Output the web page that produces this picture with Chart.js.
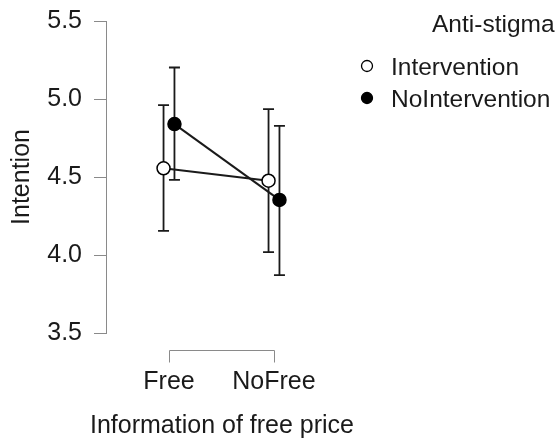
<!DOCTYPE html>
<html lang="en">
<head>
    <meta charset="UTF-8">
    <title>Intention by information of free price</title>
    <style>
        body {
            margin: 0;
            padding: 0;
            background: #ffffff;
        }
        #chart {
            display: block;
        }
    </style>
</head>
<body>
    <canvas id="chart" width="558" height="440"></canvas>

    <script src="https://cdn.jsdelivr.net/npm/chart.js"></script>
    <script>
        // Data
        const categories = ['Free', 'NoFree'];
        const seriesNames = ['Intervention', 'NoIntervention'];
        const legendTitle = 'Anti-stigma';
        const xTitle = 'Information of free price';
        const yTicks = [3.5, 4.0, 4.5, 5.0, 5.5];

        const interventionMean = [4.556, 4.476];
        const interventionLow = [4.155, 4.018];
        const interventionHigh = [4.961, 4.935];

        const noInterventionMean = [4.839, 4.353];
        const noInterventionLow = [4.481, 3.871];
        const noInterventionHigh = [5.202, 4.828];

        const FONT = '"Liberation Sans", Arial, Helvetica, sans-serif';
        const AXIS_GREY = '#8a8a8a';
        const INK = '#1a1a1a';
        const dodge = 0.052; // horizontal offset so the two groups do not overlap

        function toPoints(means, shift) {
            return means.map((m, i) => ({ x: i + 1 + shift, y: m }));
        }

        const series = [
            { name: seriesNames[0], mean: interventionMean, low: interventionLow, high: interventionHigh, shift: -dodge, fill: '#ffffff' },
            { name: seriesNames[1], mean: noInterventionMean, low: noInterventionLow, high: noInterventionHigh, shift: dodge, fill: '#000000' }
        ];

        // error bars, drawn beneath lines and points
        const errorBars = {
            id: 'errorBars',
            beforeDatasetsDraw(chart) {
                const c = chart.ctx;
                const xs = chart.scales.x;
                const ys = chart.scales.y;
                c.save();
                c.strokeStyle = INK;
                c.lineWidth = 1.8;
                series.forEach(s => {
                    s.mean.forEach((m, i) => {
                        const x = xs.getPixelForValue(i + 1 + s.shift);
                        const top = ys.getPixelForValue(s.high[i]);
                        const bot = ys.getPixelForValue(s.low[i]);
                        c.beginPath();
                        c.moveTo(x, top); c.lineTo(x, bot);
                        c.moveTo(x - 5.5, top); c.lineTo(x + 5.5, top);
                        c.moveTo(x - 5.5, bot); c.lineTo(x + 5.5, bot);
                        c.stroke();
                    });
                });
                c.restore();
            }
        };

        // bracket-style x axis line and the x title, centred under the categories
        const xBracket = {
            id: 'xBracket',
            afterDraw(chart) {
                const c = chart.ctx;
                const xs = chart.scales.x;
                const yBase = Math.round(chart.chartArea.bottom + 17) + 0.5;
                const x1 = Math.round(xs.getPixelForValue(1)) + 0.5;
                const x2 = Math.round(xs.getPixelForValue(categories.length)) + 0.5;
                c.save();
                c.strokeStyle = AXIS_GREY;
                c.lineWidth = 1;
                c.beginPath();
                c.moveTo(x1, yBase + 12);
                c.lineTo(x1, yBase);
                c.lineTo(x2, yBase);
                c.lineTo(x2, yBase + 12);
                c.stroke();

                c.font = '25px ' + FONT;
                c.fillStyle = INK;
                c.textAlign = 'center';
                c.textBaseline = 'alphabetic';
                c.fillText(xTitle, (x1 + x2) / 2, 433);
                c.restore();
            }
        };

        // legend at the right, with its title
        const sideLegend = {
            id: 'sideLegend',
            afterDraw(chart) {
                const c = chart.ctx;
                c.save();
                c.font = '24.5px ' + FONT;
                c.fillStyle = INK;
                c.textBaseline = 'alphabetic';
                c.textAlign = 'left';
                c.fillText(legendTitle, 432, 32);
                series.forEach((s, i) => {
                    const cy = 66 + i * 32;
                    c.beginPath();
                    c.arc(367, cy, 5.5, 0, Math.PI * 2);
                    c.fillStyle = s.fill;
                    c.fill();
                    c.lineWidth = 1.3;
                    c.strokeStyle = '#000';
                    c.stroke();
                    c.fillStyle = INK;
                    c.fillText(s.name, 391, cy + 8.5);
                });
                c.restore();
            }
        };

        const ctx = document.getElementById('chart').getContext('2d');
        new Chart(ctx, {
            type: 'scatter',
            data: {
                datasets: series.map(s => ({
                    label: s.name,
                    data: toPoints(s.mean, s.shift),
                    showLine: true,
                    borderColor: INK,
                    borderWidth: 2,
                    pointBackgroundColor: s.fill,
                    pointBorderColor: '#000',
                    pointBorderWidth: 1.5,
                    pointRadius: 6.5,
                    pointHoverRadius: 6.5
                }))
            },
            options: {
                responsive: false,
                animation: false,
                events: [],
                layout: {
                    padding: { top: 21, right: 221, bottom: 0, left: 0 }
                },
                plugins: {
                    legend: { display: false },
                    tooltip: { enabled: false }
                },
                scales: {
                    x: {
                        type: 'linear',
                        min: 0.4,
                        max: 2.6,
                        afterBuildTicks(scale) {
                            scale.ticks = categories.map((_, i) => ({ value: i + 1 }));
                        },
                        afterFit(scale) {
                            scale.height = 107;
                        },
                        ticks: {
                            autoSkip: false,
                            maxRotation: 0,
                            padding: 34,
                            color: INK,
                            font: { family: FONT, size: 25 },
                            callback: v => categories[Math.round(v) - 1] || ''
                        },
                        grid: { display: false, drawTicks: false },
                        border: { display: false }
                    },
                    y: {
                        min: 3.5,
                        max: 5.5,
                        afterBuildTicks(scale) {
                            scale.ticks = yTicks.map(v => ({ value: v }));
                        },
                        afterFit(scale) {
                            scale.width = 106;
                            scale.paddingTop = 0;
                            scale.paddingBottom = 0;
                        },
                        ticks: {
                            padding: 12,
                            color: INK,
                            font: { family: FONT, size: 25 },
                            callback: v => Number(v).toFixed(1)
                        },
                        grid: {
                            drawOnChartArea: false,
                            drawTicks: true,
                            tickLength: 12,
                            color: AXIS_GREY,
                            lineWidth: 1
                        },
                        border: { display: true, color: AXIS_GREY, width: 1 },
                        title: {
                            display: true,
                            text: 'Intention',
                            color: INK,
                            font: { family: FONT, size: 25 },
                            padding: { top: 7, bottom: 7 }
                        }
                    }
                }
            },
            plugins: [errorBars, xBracket, sideLegend]
        });
    </script>
</body>
</html>
